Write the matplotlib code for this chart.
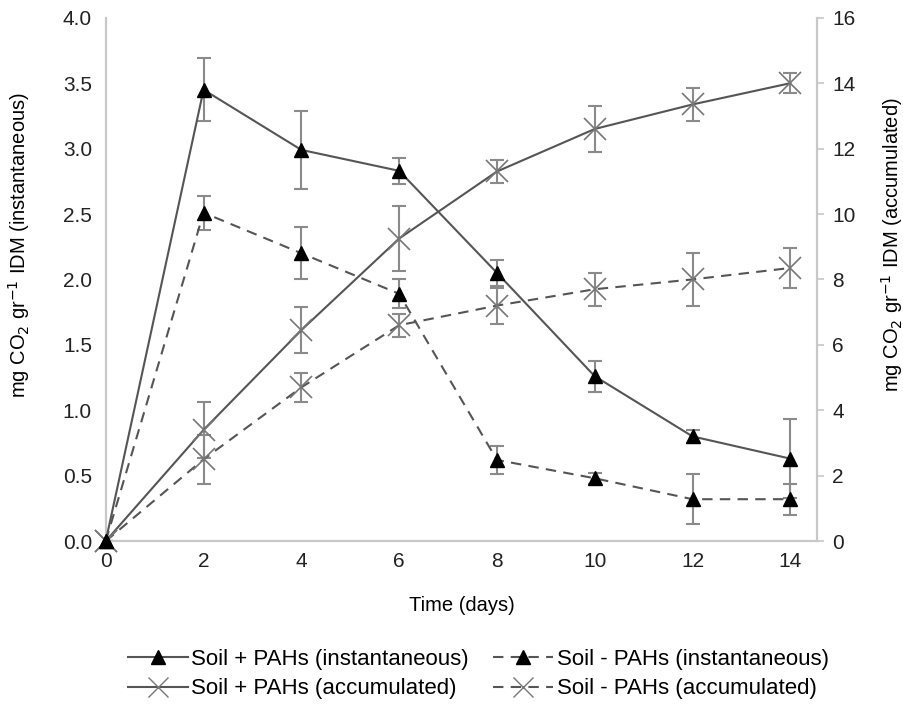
import numpy as np
import matplotlib.pyplot as plt
from matplotlib.lines import Line2D

plt.rcParams['font.family'] = ['Liberation Sans', 'DejaVu Sans']

days = [0, 2, 4, 6, 8, 10, 12, 14]

# instantaneous (left axis)
inst_plus = [0, 3.45, 2.99, 2.83, 2.05, 1.26, 0.80, 0.63]
inst_plus_err = [0, 0.24, 0.30, 0.10, 0.10, 0.12, 0.05, 0.30]
inst_minus = [0, 2.51, 2.20, 1.89, 0.62, 0.48, 0.32, 0.32]
inst_minus_err = [0, 0.13, 0.20, 0.11, 0.11, 0.04, 0.19, 0.12]

# accumulated (right axis)
acc_plus = [0, 3.4, 6.45, 9.25, 11.3, 12.6, 13.35, 14.0]
acc_plus_err = [0, 0.85, 0.7, 1.0, 0.35, 0.7, 0.5, 0.3]
acc_minus = [0, 2.5, 4.7, 6.6, 7.2, 7.7, 8.0, 8.35]
acc_minus_err = [0, 0.75, 0.45, 0.35, 0.55, 0.5, 0.8, 0.6]

line_c = '#555555'
err_c = '#8a8a8a'
spine_c = '#c8c8c8'
dash = (0, (5, 3.5))

fig = plt.figure(figsize=(9.04, 7.11), dpi=100)
ax1 = fig.add_axes([0.117, 0.239, 0.787, 0.736])
ax2 = ax1.twinx()

ek = dict(ecolor=err_c, elinewidth=1.5, capsize=5, capthick=1.5)

# error bars (all drawn on the right axis, instantaneous scaled x4)
ax2.errorbar(days, acc_plus, yerr=acc_plus_err, fmt='none', **ek)
ax2.errorbar(days, acc_minus, yerr=acc_minus_err, fmt='none', **ek)
ax2.errorbar(days, [v * 4 for v in inst_plus],
             yerr=[e * 4 for e in inst_plus_err], fmt='none', **ek)
ax2.errorbar(days, [v * 4 for v in inst_minus],
             yerr=[e * 4 for e in inst_minus_err], fmt='none', **ek)

ax2.plot(days, acc_plus, color=line_c, lw=1.5, marker='x', ms=16, mew=1.2,
         mec='#777777', clip_on=False)
ax2.plot(days, acc_minus, color=line_c, lw=1.5, ls=dash, marker='x', ms=16, mew=1.2,
         mec='#777777', clip_on=False)

ax1.plot(days, inst_plus, color=line_c, lw=1.5, marker='^', ms=10,
         mfc='black', mec='black', clip_on=False, zorder=5)
ax1.plot(days, inst_minus, color=line_c, lw=1.5, ls=dash, marker='^', ms=10,
         mfc='black', mec='black', clip_on=False, zorder=5)
ax1.set_zorder(ax2.get_zorder() + 1)
ax1.patch.set_visible(False)

ax1.set_xlim(0, 14.55)
ax1.set_ylim(0, 4.0)
ax2.set_ylim(0, 16)
ax1.set_xticks(days)
yt = np.arange(0, 4.01, 0.5)
ax1.set_yticks(yt)
ax1.set_yticklabels([f'{v:.1f}' for v in yt])
ax2.set_yticks(range(0, 17, 2))

for ax in (ax1, ax2):
    ax.spines['top'].set_visible(False)
    for s in ('left', 'right', 'bottom'):
        ax.spines[s].set_color(spine_c)
        ax.spines[s].set_linewidth(1.5)
    ax.tick_params(labelsize=15, colors='#222222')
ax1.tick_params(axis='y', length=0, pad=10)
ax1.tick_params(axis='x', length=0, pad=8)
ax2.tick_params(axis='y', length=5, width=1.2, color=spine_c, labelcolor='#222222', pad=6)

ax1.set_xlabel('Time (days)', fontsize=14.5, labelpad=18)
ax1.set_ylabel('mg CO$_2$ gr$^{-1}$ IDM (instantaneous)', fontsize=14.5)
ax2.set_ylabel('mg CO$_2$ gr$^{-1}$ IDM (accumulated)', fontsize=14.5)
ax1.yaxis.set_label_coords(-0.104, 0.566)
ax2.yaxis.set_label_coords(1.087, 0.566)

handles = [
    Line2D([], [], color=line_c, lw=1.5, marker='^', ms=10, mfc='black', mec='black'),
    Line2D([], [], color=line_c, lw=1.5, marker='x', ms=15, mec='#777777'),
    Line2D([], [], color=line_c, lw=1.5, ls=dash, marker='^', ms=10, mfc='black', mec='black'),
    Line2D([], [], color=line_c, lw=1.5, ls=dash, marker='x', ms=15, mec='#777777'),
]
labels = ['Soil + PAHs (instantaneous)', 'Soil + PAHs (accumulated)',
          'Soil - PAHs (instantaneous)', 'Soil - PAHs (accumulated)']
fig.legend(handles, labels, loc='center', bbox_to_anchor=(0.529, 0.052), ncol=2,
           frameon=False, fontsize=16, handlelength=2.7, handletextpad=0.15,
           columnspacing=1.1, labelspacing=0.4)

fig.savefig('out.png', dpi=100)
